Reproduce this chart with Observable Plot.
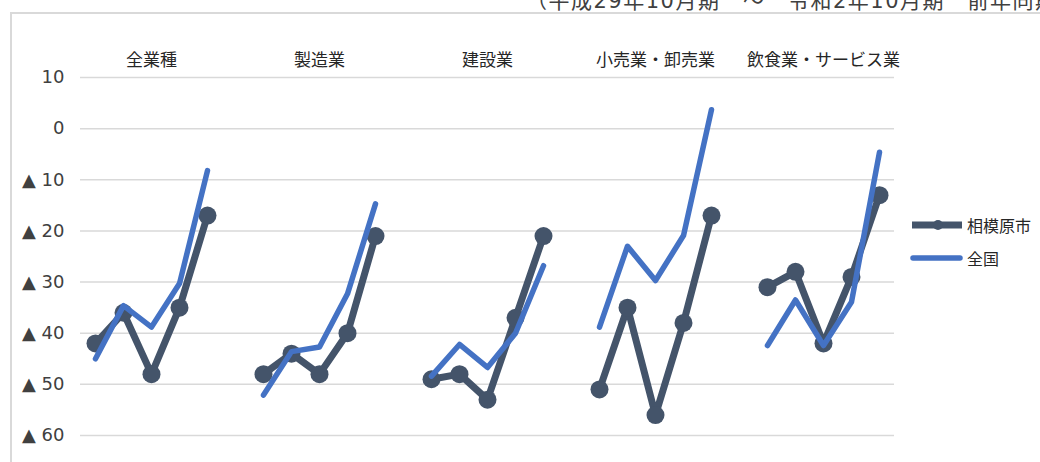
<!DOCTYPE html>
<html><head><meta charset="utf-8">
<script src="https://cdn.jsdelivr.net/npm/d3@7"></script>
<script src="https://cdn.jsdelivr.net/npm/@observablehq/plot@0.6"></script>
<style>
body{margin:0;background:#fff;font-family:"Noto Sans CJK JP","Noto Sans",sans-serif;}
#wrap{position:relative;width:1040px;height:462px;overflow:hidden;}
#title{position:absolute;left:526px;top:-11px;font-size:21px;letter-spacing:1.5px;white-space:nowrap;color:#404040;line-height:24px;font-family:"DejaVu Sans","Noto Sans CJK JP",sans-serif;}
#frame{position:absolute;left:10px;top:12px;width:1040px;height:460px;border-left:2px solid #d9d9d9;border-top:2px solid #d9d9d9;}
#chart{position:absolute;left:12px;top:14px;}
#legend{position:absolute;left:905px;top:208px;font-size:16px;color:#262626;}
#legend .row{display:flex;align-items:center;height:33px;}
#legend svg{margin-right:4px;}
</style></head>
<body><div id="wrap"><div id="title"></div><div id="frame"></div><div id="chart"></div><div id="legend"></div></div>
<script>
const titleText = "（平成29年10月期　～　令和2年10月期　前年同期比）";
const categories = ["全業種", "製造業", "建設業", "小売業・卸売業", "飲食業・サービス業"];
const periods = ["1", "2", "3", "4", "5"];
const seriesNames = ["相模原市", "全国"];
const sagamihara = [
  [-42, -36, -48, -35, -17],
  [-48, -44, -48, -40, -21],
  [-49, -48, -53, -37, -21],
  [-51, -35, -56, -38, -17],
  [-31, -28, -42, -29, -13]
];
const zenkoku = [
  [-45.0, -34.6, -38.8, -30.3, -8.2],
  [-52.1, -43.6, -42.7, -32.3, -14.7],
  [-48.4, -42.2, -46.7, -40.0, -26.8],
  [-38.8, -23.0, -29.7, -20.9, 3.7],
  [-42.4, -33.5, -42.4, -33.9, -4.6]
];
const yTicks = [10, 0, -10, -20, -30, -40, -50, -60];
const colors = ["#44546A", "#4472C4"];

const slot = (ci, pi) => ci * (periods.length + 1) + pi;
const xDomain = d3.range(categories.length * (periods.length + 1) - 1);
const toRows = (arr) => arr.flatMap((vals, ci) => vals.map((v, pi) => ({cat: categories[ci], period: periods[pi], k: slot(ci, pi), v})));
const rowsS = toRows(sagamihara);
const rowsZ = toRows(zenkoku);
const fmt = d => d > 0 ? String(d) : d === 0 ? "0" : "▲ " + (-d);

document.getElementById("title").textContent = titleText;

const chart = Plot.plot({
  width: 1028,
  height: 448,
  marginLeft: 68,
  marginRight: 146,
  marginTop: 63,
  marginBottom: 27,
  style: {fontFamily: '"Noto Sans CJK JP","Noto Sans",sans-serif', color: "#404040", background: "transparent"},
  x: {type: "point", domain: xDomain, padding: 0.5, axis: null},
  y: {domain: [-60, 10], axis: null},
  marks: [
    Plot.gridY({ticks: yTicks, stroke: "#d9d9d9", strokeOpacity: 1, strokeWidth: 1.5}),
    Plot.axisY({ticks: yTicks, tickSize: 0, tickPadding: 16, tickFormat: fmt, label: null, fontSize: 18, fontFamily: '"DejaVu Sans",sans-serif', fill: "#404040"}),
    Plot.text(categories, {x: (d, i) => slot(i, 2), text: d => d, frameAnchor: "top", dy: -24, fontSize: 17, fill: "#262626"}),
    Plot.line(rowsS, {x: "k", y: "v", z: "cat", stroke: colors[0], strokeWidth: 7, strokeLinejoin: "round", strokeLinecap: "round"}),
    Plot.dot(rowsS, {x: "k", y: "v", r: 9, fill: colors[0], stroke: "none"}),
    Plot.line(rowsZ, {x: "k", y: "v", z: "cat", stroke: colors[1], strokeWidth: 5.5, strokeLinejoin: "round", strokeLinecap: "round"})
  ]
});
document.getElementById("chart").appendChild(chart);

const legend = document.getElementById("legend");
seriesNames.forEach((name, i) => {
  const row = document.createElement("div");
  row.className = "row";
  const sw = i === 0
    ? `<svg width="58" height="14"><line x1="7" y1="7" x2="57" y2="7" stroke="${colors[0]}" stroke-width="7"/><circle cx="33" cy="7" r="5" fill="${colors[0]}"/></svg>`
    : `<svg width="58" height="14"><line x1="8" y1="7" x2="55" y2="7" stroke="${colors[1]}" stroke-width="5.5" stroke-linecap="round"/></svg>`;
  row.innerHTML = sw + `<span>${name}</span>`;
  legend.appendChild(row);
});
</script>
</body></html>
